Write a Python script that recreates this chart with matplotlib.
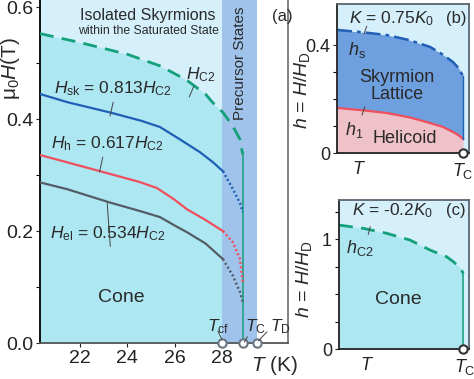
import numpy as np
import matplotlib.pyplot as plt
from matplotlib.ticker import MultipleLocator, FixedLocator

plt.rcParams['font.family'] = ['Liberation Sans', 'DejaVu Sans']
plt.rcParams['mathtext.fontset'] = 'custom'
plt.rcParams['mathtext.rm'] = 'Liberation Sans'
plt.rcParams['mathtext.it'] = 'Liberation Sans:italic'

# ---- colours ----
c_sat = '#d5f0fb'
c_cone = '#ade7f2'
c_band = '#9fc3eb'
c_green = '#14a07a'
c_blue = '#1f5fb5'
c_red = '#f04f5c'
c_gray = '#545d66'
c_sky = '#6e9fde'
c_heli = '#efc1c9'
c_text = '#2a2a2a'

# ---- panel (a) data: T (K), mu0 H (T) ----
T_c2 = [20.31, 22.0, 24.0, 25.4, 26.5, 27.3, 27.6, 28.04, 28.46, 28.76, 28.84, 28.88]
H_c2 = [0.553, 0.537, 0.516, 0.495, 0.470, 0.445, 0.430, 0.412, 0.3875, 0.364, 0.345, 0.337]

T_sk = [20.31, 21.5, 23.27, 24.6, 25.38, 26.22, 27.07, 27.62, 28.04]
H_sk = [0.445, 0.430, 0.412, 0.397, 0.386, 0.364, 0.341, 0.323, 0.307]
T_sk_dot = [28.04, 28.46, 28.76, 28.88]
H_sk_dot = [0.307, 0.275, 0.250, 0.234]

T_h = [20.31, 22.85, 24.5, 25.25, 26.0, 26.52, 27.3, 28.04]
H_h = [0.336, 0.307, 0.288, 0.277, 0.256, 0.239, 0.220, 0.200]
T_h_dot = [28.04, 28.46, 28.76, 28.88]
H_h_dot = [0.200, 0.180, 0.150, 0.109]

T_el = [20.31, 21.45, 23.27, 24.6, 25.38, 26.0, 26.52, 27.3, 28.04]
H_el = [0.287, 0.275, 0.251, 0.235, 0.225, 0.210, 0.198, 0.178, 0.150]
T_el_dot = [28.04, 28.46, 28.76, 28.88]
H_el_dot = [0.150, 0.120, 0.091, 0.073]

T_cf, T_C, T_D = 28.02, 28.88, 29.48

# ---- panel (b) data: reduced T, h ----
tb = [0.0, 0.2, 0.379, 0.55, 0.705, 0.8, 0.879, 0.92, 0.955]
hs_b = [0.456, 0.447, 0.437, 0.418, 0.393, 0.365, 0.337, 0.315, 0.285]
h1_b = [0.167, 0.158, 0.148, 0.132, 0.111, 0.097, 0.078, 0.066, 0.052]

# ---- panel (c) data ----
tc = [0.0, 0.187, 0.367, 0.546, 0.70, 0.828, 0.879, 0.931, 0.956]
hc2_c = [1.127, 1.097, 1.052, 0.991, 0.900, 0.839, 0.794, 0.742, 0.688]

W, H = 474, 379
fig = plt.figure(figsize=(W / 100, H / 100), dpi=100)


def box(l, r, t, b):
    return [l / W, 1 - b / H, (r - l) / W, (b - t) / H]


# ================= panel (a) =================
ax = fig.add_axes(box(40, 288, 0, 343))
xmin, xmax = 20.31, 30.79
ax.set_xlim(xmin, xmax)
ax.set_ylim(0, 0.613)

ax.axvspan(xmin, 28.0, color=c_sat, lw=0, zorder=0)
ax.fill_between(T_c2, 0, H_c2, color=c_cone, lw=0, zorder=0.5)
ax.axvspan(28.0, T_D, color=c_band, lw=0, zorder=1)

ax.plot(T_c2, H_c2, color=c_green, lw=2, dashes=(5, 3), zorder=3)
ax.plot([T_C, T_C], [0, H_c2[-1]], color=c_green, lw=1.1, zorder=3)
for xs, ys, xd, yd, c in [(T_sk, H_sk, T_sk_dot, H_sk_dot, c_blue),
                          (T_h, H_h, T_h_dot, H_h_dot, c_red),
                          (T_el, H_el, T_el_dot, H_el_dot, c_gray)]:
    ax.plot(xs, ys, color=c, lw=1.6, zorder=3)
    ax.plot(xd, yd, color=c, lw=1.8, ls=(0, (0.8, 1.0)), zorder=3)

for t in [T_cf, T_C, T_D]:
    ax.plot(t, 0, 'o', ms=6, mfc='white', mec='#6b7683', mew=1.5,
            zorder=5, clip_on=False)

ax.text(24.87, 0.586, 'Isolated Skyrmions', ha='center', va='center',
        fontsize=11.5, color=c_text)
ax.text(24.9, 0.557, 'within the Saturated State', ha='center', va='center',
        fontsize=8.8, color=c_text)
ax.text(30.53, 0.584, '(a)', ha='center', va='center', fontsize=12, color=c_text)
ax.text(28.78, 0.50, 'Precursor States', rotation=90, ha='center', va='center',
        fontsize=11, color=c_text, zorder=4)

lab = dict(ha='center', va='center', fontsize=12.5, color=c_text, zorder=4)
ax.text(23.4, 0.454, r'$H_{\rm sk}$ = 0.813$H_{\rm C2}$', **lab)
ax.text(23.15, 0.357, r'$H_{\rm h}$ = 0.617$H_{\rm C2}$', **lab)
ax.text(23.15, 0.196, r'$H_{\rm el}$ = 0.534$H_{\rm C2}$', **lab)
ax.text(27.1, 0.480, r'$H_{\rm C2}$', **lab)
ax.text(23.73, 0.082, 'Cone', ha='center', va='center', fontsize=14, color=c_text)

# leader lines
for (x0, y0), (x1, y1) in [((23.4, 0.430), (23.27, 0.406)),
                           ((22.96, 0.332), (22.83, 0.306)),
                           ((23.28, 0.173), (23.15, 0.250)),
                           ((26.8, 0.458), (26.62, 0.440))]:
    ax.plot([x0, x1], [y0, y1], color='#444', lw=0.7, zorder=4)

# T markers labels
tl = dict(va='bottom', fontsize=12.5, color=c_text, zorder=6)
ax.text(28.3, 0.012, r'$T_{\rm cf}$', ha='right', **tl)
ax.text(28.97, 0.012, r'$T_{\rm C}$', ha='left', **tl)
ax.text(30.03, 0.012, r'$T_{\rm D}$', ha='left', **tl)
for (x0, y0), (x1, y1) in [((27.83, 0.021), (28.0, 0.006)),
                           ((28.95, 0.002), (29.07, 0.011)),
                           ((29.55, 0.004), (29.9, 0.020))]:
    ax.plot([x0, x1], [y0, y1], color='#444', lw=0.7, zorder=6, clip_on=False)

ax.set_xticks([22, 24, 26, 28])
ax.set_yticks([0.0, 0.2, 0.4, 0.6])
ax.set_yticklabels(['0.0', '0.2', '0.4', '0.6'])
ax.yaxis.set_minor_locator(FixedLocator([0.1, 0.3, 0.5]))
ax.tick_params(labelsize=14, length=3, width=0.8, pad=2, colors='#222')
ax.tick_params(which='minor', length=3, width=0.8)
ax.text(30.24, -0.041, r'$T$ (K)', ha='center', va='center', fontsize=15,
        color=c_text, transform=ax.transData, clip_on=False)
ax.text(-0.118, 0.8, r'$\mathregular{\mu_0}$$H$(T)', rotation=90, ha='center',
        va='center', fontsize=15, color=c_text, transform=ax.transAxes)
ax.spines['top'].set_visible(False)
ax.spines['left'].set_color('black')
ax.spines['bottom'].set_color('#555')
ax.spines['right'].set_color('#777')
for s in ['left', 'bottom', 'right']:
    ax.spines[s].set_linewidth(1.3)

# ================= panel (b) =================
bx = fig.add_axes(box(337, 469, 4, 153))
bx.set_xlim(0, 1)
bx.set_ylim(0, 0.552)
bx.set_facecolor(c_sat)
bx.fill_between(tb, 0, h1_b, color=c_heli, lw=0)
bx.fill_between(tb, h1_b, hs_b, color=c_sky, lw=0)
bx.plot(tb, hs_b, color=c_blue, lw=1.8, ls=(0, (6, 2, 1.5, 2)))
bx.plot(tb, h1_b, color=c_red, lw=1.6)
bx.plot([tb[-1], tb[-1]], [h1_b[-1], hs_b[-1]], color=c_blue, lw=1)
bx.plot(tb[-1], 0, 'o', ms=6, mfc='white', mec='#333', mew=1.5, zorder=5,
        clip_on=False)
bx.text(0.41, 0.9, r'$K$ = 0.75$K_0$', transform=bx.transAxes, ha='center',
        va='center', fontsize=12.5, color=c_text)
bx.text(0.9, 0.9, '(b)', transform=bx.transAxes, ha='center', va='center',
        fontsize=12, color=c_text)
bx.text(0.15, 0.69, r'$h_{\rm s}$', transform=bx.transAxes, ha='center',
        va='center', fontsize=13, color=c_text)
bx.text(0.455, 0.45, 'Skyrmion\nLattice', transform=bx.transAxes, ha='center',
        va='center', fontsize=13, color=c_text, linespacing=1.05)
bx.text(0.13, 0.154, r'$h_1$', transform=bx.transAxes, ha='center',
        va='center', fontsize=13, color=c_text)
bx.text(0.51, 0.094, 'Helicoid', transform=bx.transAxes, ha='center',
        va='center', fontsize=13, color=c_text)
bx.plot([0.205, 0.225], [0.80, 0.85], transform=bx.transAxes, color='#444', lw=0.7)
bx.plot([0.19, 0.21], [0.255, 0.31], transform=bx.transAxes, color='#444', lw=0.7)
bx.set_yticks([0, 0.4])
bx.set_yticklabels(['0', '0.4'])
bx.yaxis.set_minor_locator(FixedLocator([0.1, 0.2, 0.3]))
bx.set_xticks([0.17, 0.955])
bx.set_xticklabels([r'$T$', r'$T_{\rm C}$'])
bx.tick_params(axis='x', length=0, pad=6)
bx.tick_params(labelsize=13, colors='#222')
bx.tick_params(axis='y', length=3, width=0.8, pad=2)
bx.tick_params(which='minor', length=3, width=0.8)
bx.set_ylabel(r'$h$ = $H$/$H_{\rm D}$', fontsize=14, color=c_text)
bx.yaxis.set_label_coords(-0.19, 0.42)

# ================= panel (c) =================
cx = fig.add_axes(box(339, 469, 200, 349))
cx.set_xlim(0, 1)
cx.set_ylim(0, 1.355)
cx.set_facecolor(c_sat)
cx.fill_between(tc, 0, hc2_c, color=c_cone, lw=0)
cx.plot(tc, hc2_c, color=c_green, lw=2, dashes=(5, 3))
cx.plot([tc[-1], tc[-1]], [0, hc2_c[-1]], color=c_green, lw=1.1)
cx.plot(tc[-1], 0, 'o', ms=6, mfc='white', mec='#333', mew=1.5, zorder=5,
        clip_on=False)
cx.text(0.41, 0.93, r'$K$ = -0.2$K_0$', transform=cx.transAxes, ha='center',
        va='center', fontsize=12.5, color=c_text)
cx.text(0.9, 0.93, '(c)', transform=cx.transAxes, ha='center', va='center',
        fontsize=12, color=c_text)
cx.text(0.16, 0.68, r'$h_{\rm C2}$', transform=cx.transAxes, ha='center',
        va='center', fontsize=13, color=c_text)
cx.text(0.455, 0.33, 'Cone', transform=cx.transAxes, ha='center',
        va='center', fontsize=14, color=c_text)
cx.plot([0.225, 0.24], [0.77, 0.82], transform=cx.transAxes, color='#444', lw=0.7)
cx.set_yticks([0, 1])
cx.yaxis.set_minor_locator(MultipleLocator(0.25))
cx.set_xticks([0.215, 0.965])
cx.set_xticklabels([r'$T$', r'$T_{\rm C}$'])
cx.tick_params(axis='x', length=0, pad=6)
cx.tick_params(labelsize=13, colors='#222')
cx.tick_params(axis='y', length=3, width=0.8, pad=2)
cx.tick_params(which='minor', length=3, width=0.8)
cx.set_ylabel(r'$h$ = $H$/$H_{\rm D}$', fontsize=14, color=c_text)
cx.yaxis.set_label_coords(-0.19, 0.47)

for a in (bx, cx):
    for s in a.spines.values():
        s.set_color('#5a6470')
        s.set_linewidth(1.3)
    a.spines['left'].set_color('#222')
    a.spines['bottom'].set_color('#222')

fig.savefig('out.png', dpi=100)
